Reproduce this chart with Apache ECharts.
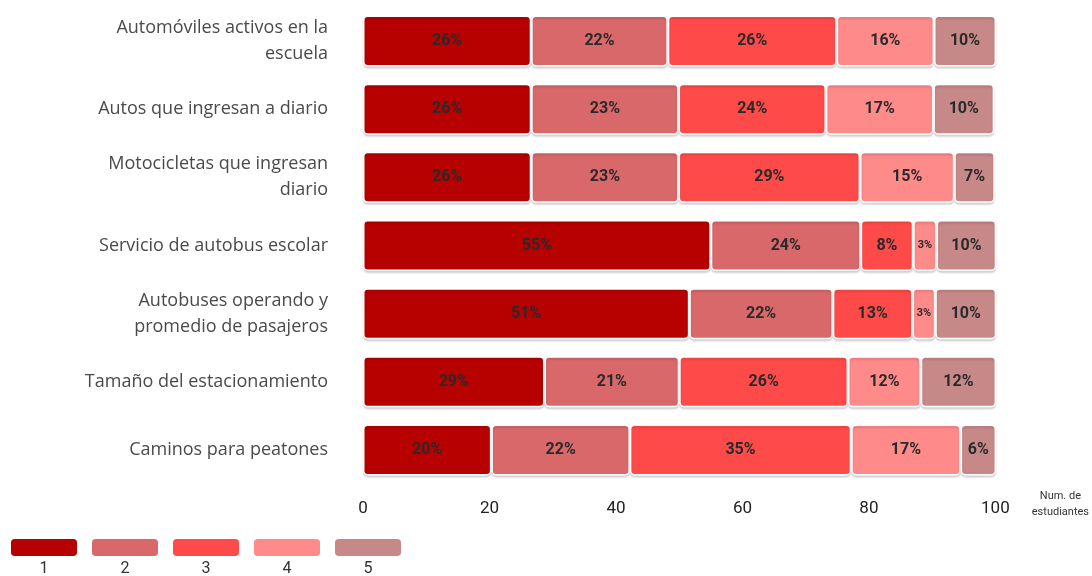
<!DOCTYPE html>
<html>
<head>
<meta charset="utf-8">
<script src="https://cdn.jsdelivr.net/npm/echarts@6/dist/echarts.min.js"></script>
<style>html,body{margin:0;padding:0;background:#fff}#c{width:1092px;height:576px}</style>
</head>
<body>
<div id="c"></div>
<script>
var categories = [
  'Automóviles activos en la\nescuela',
  'Autos que ingresan a diario',
  'Motocicletas que ingresan\ndiario',
  'Servicio de autobus escolar',
  'Autobuses operando y\npromedio de pasajeros',
  'Tamaño del estacionamiento',
  'Caminos para peatones'
];
var seriesNames = ['1', '2', '3', '4', '5'];
// bar lengths as measured in the picture
var s1 = [26.6, 26.6, 26.6, 55.0, 51.6, 28.7, 20.3];
var s2 = [21.6, 23.3, 23.3, 23.7, 22.7, 21.3, 21.9];
var s3 = [26.7, 23.3, 28.7, 8.3, 12.6, 26.7, 35.0];
var s4 = [15.4, 17.0, 14.9, 3.7, 3.6, 11.5, 17.3];
var s5 = [9.8, 9.6, 6.4, 9.7, 9.9, 11.9, 5.6];
// printed percentage labels
var l1 = [26, 26, 26, 55, 51, 29, 20];
var l2 = [22, 23, 23, 24, 22, 21, 22];
var l3 = [26, 24, 29, 8, 13, 26, 35];
var l4 = [16, 17, 15, 3, 3, 12, 17];
var l5 = [10, 10, 7, 10, 10, 12, 6];
var xTicks = [0, 20, 40, 60, 80, 100];
var colors = ['#B70000', '#D9686A', '#FF4A4A', '#FF8A8A', '#C78888'];

var allData = [s1, s2, s3, s4, s5];
var allLabels = [l1, l2, l3, l4, l5];
var series = allData.map(function (arr, i) {
  var labs = allLabels[i];
  return {
    name: seriesNames[i],
    type: 'bar',
    stack: 'total',
    barWidth: 51,
    itemStyle: {
      color: colors[i],
      borderRadius: 4,
      borderColor: '#fff',
      borderWidth: 1.5,
      shadowColor: 'rgba(0,0,0,0.15)',
      shadowOffsetY: 2,
      shadowBlur: 2
    },
    label: {
      show: true,
      position: 'inside',
      formatter: function (p) { return labs[p.dataIndex] + '%'; },
      color: '#2a2a2a',
      fontWeight: 'bold',
      fontSize: 16,
      fontFamily: 'Roboto'
    },
    data: arr.map(function (v, j) {
      return labs[j] < 5 ? { value: v, label: { fontSize: 11 } } : v;
    })
  };
});

var chart = echarts.init(document.getElementById('c'));
chart.setOption({
  animation: false,
  grid: { left: 363, right: 95, top: 7, bottom: 92 },
  legend: {
    data: seriesNames,
    left: 4,
    top: 532,
    itemWidth: 68,
    itemHeight: 19,
    itemGap: 11,
    icon: 'roundRect',
    formatter: function () { return ''; },
    selectedMode: false
  },
  xAxis: {
    type: 'value',
    min: xTicks[0],
    max: xTicks[xTicks.length - 1],
    interval: 20,
    splitLine: { show: false },
    axisLine: { show: false },
    axisTick: { show: false },
    axisLabel: { color: '#222', fontSize: 17, fontFamily: 'Roboto', margin: 16 },
    name: 'Num. de\nestudiantes',
    nameLocation: 'end',
    nameGap: 65,
    nameTextStyle: { fontSize: 11, color: '#333', fontFamily: 'Roboto', align: 'center', verticalAlign: 'top', lineHeight: 16, padding: [4, 0, 0, 0] }
  },
  yAxis: {
    type: 'category',
    data: categories,
    inverse: true,
    axisLine: { show: false },
    axisTick: { show: false },
    axisLabel: { color: '#4a4a4a', fontSize: 18, fontFamily: 'Open Sans', lineHeight: 26, margin: 35, align: 'right' }
  },
  graphic: seriesNames.map(function (n, i) {
    return {
      type: 'text',
      x: 44 + i * 81,
      y: 561,
      style: { text: n, fontSize: 16, fill: '#333', fontFamily: 'Roboto', align: 'center' }
    };
  }),
  series: series
});
</script>
</body>
</html>
